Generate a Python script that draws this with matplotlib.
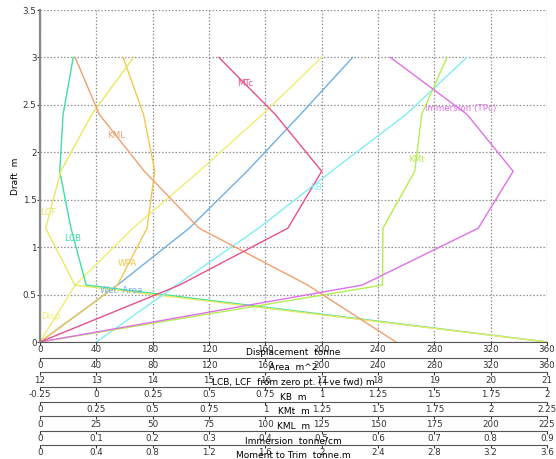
import numpy as np
import matplotlib
matplotlib.use("Agg")
import matplotlib.pyplot as plt

plt.rcParams['font.family'] = ['DejaVu Sans']

# drafts (m) at which hydrostatics were computed
draft = [0.0, 0.6, 1.2, 1.8, 2.4, 3.0]

disp = [0, 25, 66, 113, 158, 200]                 # tonne
wet_area = [0, 55, 106, 147, 185, 222]            # m^2
wpa = [0, 55, 76, 81.5, 73.5, 59]                 # m^2
lcb = [21.0, 12.82, 12.55, 12.35, 12.41, 12.59]   # m
lcf = [21.0, 12.62, 12.10, 12.37, 12.92, 13.66]   # m
kb = [0, 0.356, 0.72, 1.044, 1.375, 1.644]        # m
kmt = [0, 1.52, 1.522, 1.663, 1.694, 1.806]       # m
kml = [158, 118.8, 70.6, 46.3, 26.3, 15.6]        # m
tpc = [0, 0.572, 0.778, 0.84, 0.758, 0.622]       # tonne/cm
mtc = [0, 0.99, 1.76, 2.0, 1.67, 1.27]            # tonne.m

# the extra scales under the plot: (label, low, high, tick labels)
scales = [
    ("Displacement  tonne", 0, 360, ["0", "40", "80", "120", "160", "200", "240", "280", "320", "360"]),
    ("Area  m^2", 0, 360, ["0", "40", "80", "120", "160", "200", "240", "280", "320", "360"]),
    ("LCB, LCF  from zero pt. (+ve fwd) m", 12, 21, ["12", "13", "14", "15", "16", "17", "18", "19", "20", "21"]),
    ("KB  m", -0.25, 2.0, ["-0.25", "0", "0.25", "0.5", "0.75", "1", "1.25", "1.5", "1.75", "2"]),
    ("KMt  m", 0, 2.25, ["0", "0.25", "0.5", "0.75", "1", "1.25", "1.5", "1.75", "2", "2.25"]),
    ("KML  m", 0, 225, ["0", "25", "50", "75", "100", "125", "150", "175", "200", "225"]),
    ("Immersion  tonne/cm", 0, 0.9, ["0", "0.1", "0.2", "0.3", "0.4", "0.5", "0.6", "0.7", "0.8", "0.9"]),
    ("Moment to Trim  tonne.m", 0, 3.6, ["0", "0.4", "0.8", "1.2", "1.6", "2", "2.4", "2.8", "3.2", "3.6"]),
]


def to_main(vals, lo, hi):
    v = np.asarray(vals, dtype=float)
    return (v - lo) / (hi - lo) * 360.0


fig = plt.figure(figsize=(5.56, 4.59), dpi=100)
W, H = 556.0, 459.0
left, right = 40 / W, 547 / W
ax = fig.add_axes([left, 1 - 342 / H, right - left, (342 - 10) / H])

# curves: (values, scale low, scale high, colour, label, label pos)
curves = [
    (disp, 0, 360, "#eeee70", "Disp", (8, 0.27)),
    (wet_area, 0, 360, "#6fb0e4", "Wet. Area", (58, 0.54)),
    (wpa, 0, 360, "#f0c850", "WPA", (62, 0.83)),
    (lcb, 12, 21, "#3ee0a0", "LCB", (23, 1.09)),
    (lcf, 12, 21, "#e8e860", "LCF", (6, 1.37)),
    (kb, -0.25, 2.0, "#80eef2", "KB", (196, 1.63)),
    (kmt, 0, 2.25, "#b4ee50", "KMt", (267, 1.92)),
    (kml, 0, 225, "#f0a070", "KML", (54, 2.18)),
    (tpc, 0, 0.9, "#e070e6", "Immersion (TPc)", (299, 2.46)),
    (mtc, 0, 3.6, "#e8508c", "MTc", (146, 2.73)),
]
for vals, lo, hi, col, name, pos in curves:
    ax.plot(to_main(vals, lo, hi), draft, color=col, lw=1.0, clip_on=True)
    ax.text(pos[0], pos[1], name, color=col, fontsize=6.3, ha="center", va="center")

ax.set_xlim(0, 360)
ax.set_ylim(0, 3.5)
ax.set_xticks(np.arange(0, 361, 40))
ax.set_yticks(np.arange(0, 3.51, 0.5))
ax.set_yticklabels(["0", "0.5", "1", "1.5", "2", "2.5", "3", "3.5"])
ax.set_xticklabels(scales[0][3])
ax.grid(True, color="#909090", linestyle=(0, (1.2, 1.5)), lw=0.9)
ax.set_axisbelow(True)
ax.spines["top"].set_visible(False)
ax.spines["right"].set_visible(False)
ax.spines["left"].set_color("#888888")
ax.spines["left"].set_linewidth(1.6)
ax.spines["bottom"].set_color("#555555")
ax.spines["bottom"].set_linewidth(0.8)
ax.tick_params(axis="both", labelsize=6.3, length=2, pad=0.5, colors="#333333")
ax.set_ylabel("Draft  m", fontsize=6.5, labelpad=2)
ax.set_xlabel(scales[0][0], fontsize=6.5, labelpad=-5)

# secondary scales as bare horizontal axes
line_y = [357.7, 372.2, 387.0, 401.7, 416.2, 430.6, 445.0]
for (name, lo, hi, labels), y in zip(scales[1:], line_y):
    a2 = fig.add_axes([left, 1 - y / H, right - left, 1e-5])
    a2.set_xlim(lo, hi)
    a2.set_xticks(np.linspace(lo, hi, 10))
    a2.set_xticklabels(labels)
    a2.set_yticks([])
    for s in ("top", "left", "right"):
        a2.spines[s].set_visible(False)
    a2.spines["bottom"].set_color("#555555")
    a2.spines["bottom"].set_linewidth(0.8)
    a2.tick_params(axis="x", labelsize=6.3, length=2, pad=0.5, colors="#333333")
    a2.set_xlabel(name, fontsize=6.5, labelpad=-5)
    a2.patch.set_visible(False)

fig.savefig("out.png", dpi=100)
